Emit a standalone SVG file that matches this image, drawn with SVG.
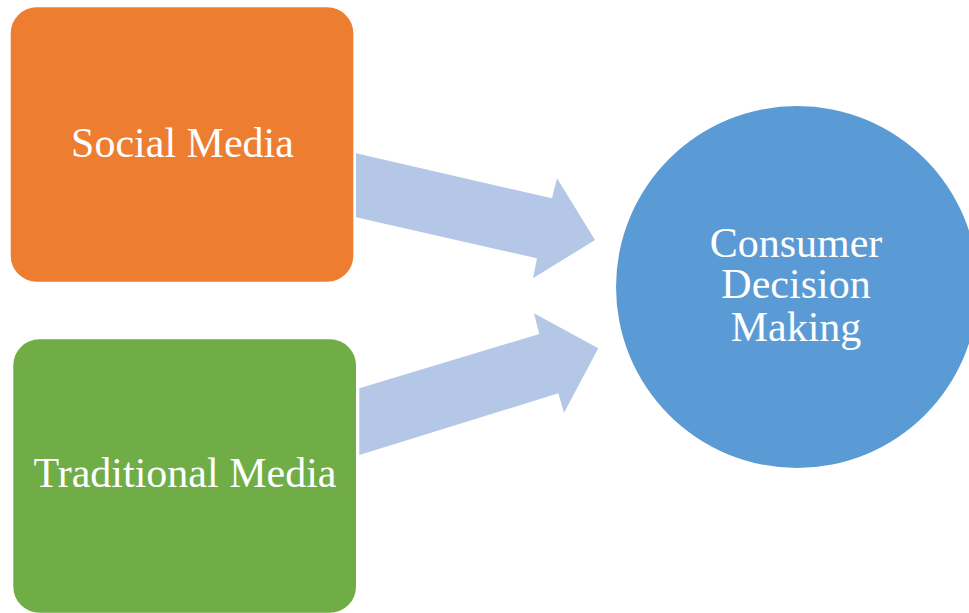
<svg xmlns="http://www.w3.org/2000/svg" width="969" height="613" viewBox="0 0 969 613">
  <style>
    .label { font-family: "Liberation Serif", "Times New Roman", serif; font-size: 42px; fill: #ffffff; text-anchor: middle; }
    .flow { fill: #b4c7e7; }
  </style>
  <rect width="969" height="613" fill="#ffffff"/>

  <!-- block arrows feeding the decision node -->
  <g id="connectors">
    <polygon class="flow" points="356,153.3 552,198.3 557,178.3 595,240 533,278.3 537,258.3 356,217.3"/>
    <polygon class="flow" points="359.3,388.3 539.3,334 534,313.3 598.3,348.3 564,412.7 558.3,393.3 359.3,455"/>
  </g>

  <g id="social-media">
    <rect x="10.7" y="7.3" width="342.6" height="274.4" rx="26" ry="26" fill="#ed7d31"/>
    <text class="label" x="182.5" y="156.7">Social Media</text>
  </g>

  <g id="traditional-media">
    <rect x="13.3" y="339.3" width="342.7" height="273.4" rx="26" ry="26" fill="#70ad47"/>
    <text class="label" x="185" y="486.7">Traditional Media</text>
  </g>

  <g id="consumer-decision-making">
    <circle cx="797" cy="287" r="181" fill="#5b9bd5"/>
    <text class="label" x="796" y="256.7">Consumer</text>
    <text class="label" x="796" y="298.3">Decision</text>
    <text class="label" x="796" y="340.7">Making</text>
  </g>
</svg>
